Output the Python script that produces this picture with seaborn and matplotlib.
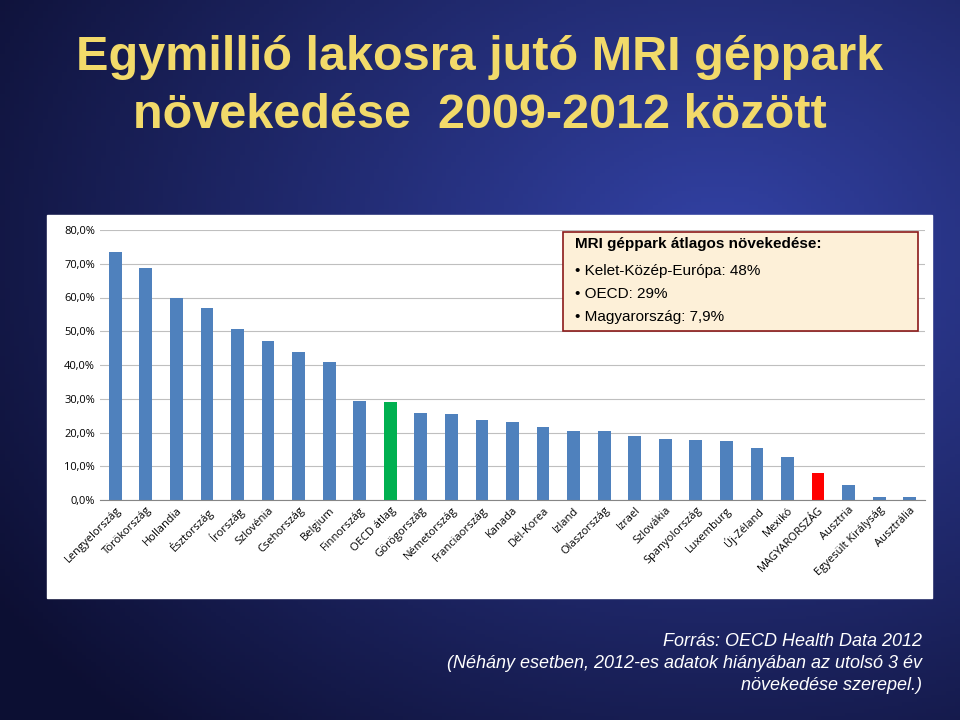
import matplotlib
matplotlib.use("Agg")
import matplotlib.pyplot as plt
import seaborn as sns
import numpy as np
import pandas as pd
from matplotlib.patches import Rectangle

countries = ["Lengyelország","Törökország","Hollandia","Észtország","Írország","Szlovénia",
             "Csehország","Belgium","Finnország","OECD átlag","Görögország","Németország",
             "Franciaország","Kanada","Dél-Korea","Izland","Olaszország","Izrael","Szlovákia",
             "Spanyolország","Luxemburg","Új-Zéland","Mexikó","MAGYARORSZÁG","Ausztria",
             "Egyesült Királyság","Ausztrália"]
values = [73.5,68.7,59.9,56.9,50.7,47.1,43.9,40.9,29.3,29.0,25.8,25.6,23.7,23.1,21.6,20.5,
          20.4,19.0,18.1,17.8,17.5,15.4,12.7,7.9,4.4,0.9,0.9]
colors = ["#4F81BD"] * len(countries)
colors[countries.index("OECD átlag")] = "#00B050"
colors[countries.index("MAGYARORSZÁG")] = "#FF0000"
yticks = [0,10,20,30,40,50,60,70,80]
ytick_labels = ["0,0%","10,0%","20,0%","30,0%","40,0%","50,0%","60,0%","70,0%","80,0%"]

df = pd.DataFrame({"country": countries, "value": values})

fig = plt.figure(figsize=(9.6, 7.2), dpi=100)
bg = fig.add_axes([0, 0, 1, 1])
yy, xx = np.mgrid[0:1:200j, 0:1:200j]
d = np.sqrt((xx - 0.75) ** 2 + (yy - 0.35) ** 2)
g = np.clip(1 - d / 0.9, 0, 1)
img = np.zeros((200, 200, 3))
img[..., 0] = 0.05 + 0.15 * g
img[..., 1] = 0.06 + 0.2 * g
img[..., 2] = 0.2 + 0.45 * g
bg.imshow(img, extent=[0, 1, 0, 1], aspect="auto")
bg.set_xlim(0, 1); bg.set_ylim(0, 1); bg.axis("off")
bg.add_patch(Rectangle((47/960, 1-598/720), (932-47)/960, (598-215)/720, color="white"))

fig.text(0.5, 0.92, "Egymillió lakosra jutó MRI géppark", ha="center", va="center",
         fontsize=35, color="#F2DA6A", family="Liberation Sans", weight="bold")
fig.text(0.5, 0.84, "növekedése  2009-2012 között", ha="center", va="center",
         fontsize=35, color="#F2DA6A", family="Liberation Sans", weight="bold")

ax = fig.add_axes([100/960, 1-500/720, 825/960, 270/720])
sns.barplot(data=df, x="country", y="value", hue="country", palette=colors,
            legend=False, ax=ax, width=0.42, saturation=1)
ax.set_ylim(0, 80)
ax.set_xlim(-0.5, len(countries) - 0.5)
ax.set_yticks(yticks)
ax.set_yticklabels(ytick_labels, fontsize=8, family="Open Sans")
ax.yaxis.grid(True, color="#BFBFBF", lw=0.8)
ax.set_axisbelow(True)
ax.set_xlabel(""); ax.set_ylabel("")
ax.set_xticks(range(len(countries)))
ax.set_xticklabels(countries, rotation=45, ha="right", rotation_mode="anchor",
                   fontsize=8, family="Open Sans")
ax.tick_params(length=0)
for s in ["top", "right", "left"]:
    ax.spines[s].set_visible(False)
ax.spines["bottom"].set_color("#868686")

fig.add_artist(Rectangle((563/960, 1-331/720), (918-563)/960, 99/720,
                         facecolor="#FDF0D8", edgecolor="#8B1A1A", lw=1.2))
fig.text(575/960, 1-244/720, "MRI géppark átlagos növekedése:", fontsize=11,
         weight="bold", va="center", family="Liberation Sans")
for i, t in enumerate(["• Kelet-Közép-Európa: 48%", "• OECD: 29%", "• Magyarország: 7,9%"]):
    fig.text(575/960, 1-(271 + 23*i)/720, t, fontsize=11, va="center", family="Liberation Sans")

foot = ["Forrás: OECD Health Data 2012",
        "(Néhány esetben, 2012-es adatok hiányában az utolsó 3 év",
        "növekedése szerepel.)"]
for i, t in enumerate(foot):
    fig.text(922/960, 1-(641 + 22*i)/720, t, ha="right", va="center", fontsize=13,
             style="italic", color="white", family="Liberation Sans")

fig.savefig("out.png", dpi=100)
